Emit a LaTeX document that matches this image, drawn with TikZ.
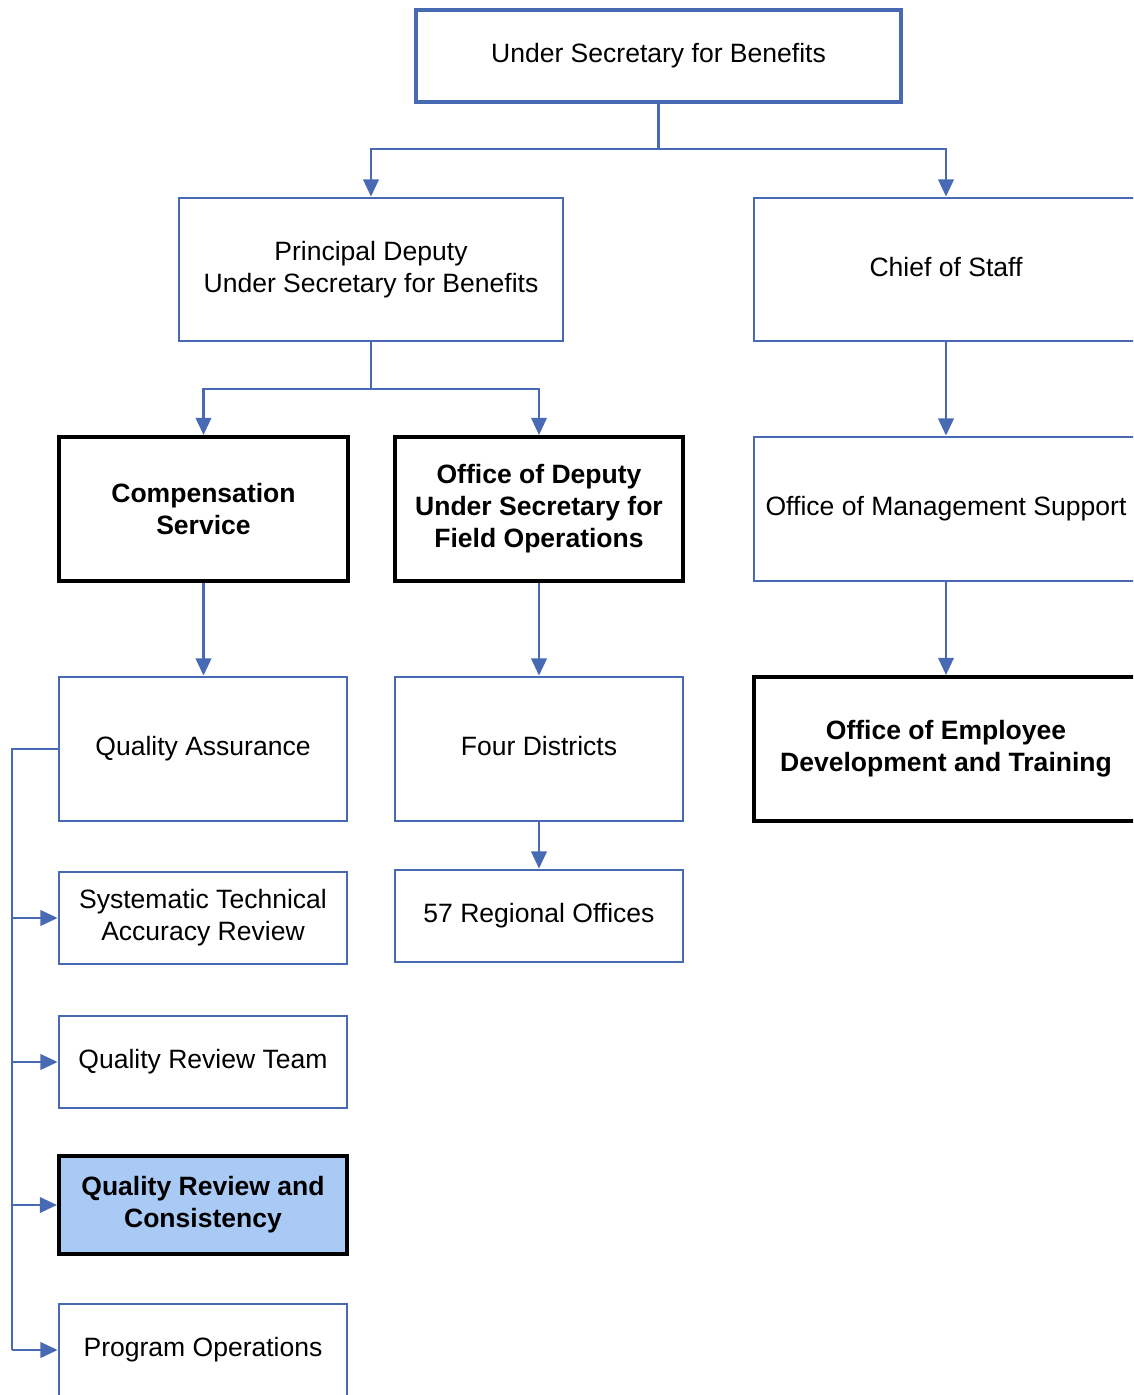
\documentclass[tikz,border=0pt]{standalone}
\usepackage{fontspec}
\setmainfont{Liberation Sans}
\usetikzlibrary{arrows.meta}
\definecolor{lnblue}{RGB}{72,106,180}
\definecolor{fillblue}{RGB}{170,202,246}
\tikzset{
  box/.style={draw=lnblue, line width=1.6pt, fill=white, inner sep=0pt, align=center,
    font=\fontsize{15.1}{18.2}\selectfont},
  one/.style={text height=10.9pt, text depth=3.1pt},
  topbox/.style={box, line width=1.9pt},
  blackbox/.style={box, draw=black, line width=2.3pt, font=\fontsize{15.1}{18.2}\selectfont\bfseries},
  conn/.style={draw=lnblue, line width=1.4pt},
  arr/.style={conn, -{Triangle[width=8.8pt,length=9.8pt]}},
}
\begin{document}
\begin{tikzpicture}[x=0.02cm, y=-0.02cm]
\useasboundingbox (0,0) rectangle (1133,1395);
\clip (0,0) rectangle (1133,1395);
\fill[white] (0,0) rectangle (1133,1395);

\node[topbox, one, minimum width=9.7cm, minimum height=1.84cm] (top) at (658.5,56) {Under Secretary for Benefits};
\node[box, minimum width=7.68cm, minimum height=2.86cm] (pd) at (371,269.5) {Principal Deputy\\Under Secretary for Benefits};
\node[box, one, minimum width=7.68cm, minimum height=2.86cm] (cos) at (946,269.5) {Chief of Staff};
\node[blackbox, minimum width=5.78cm, minimum height=2.88cm] (comp) at (203.5,509) {Compensation\\Service};
\node[blackbox, minimum width=5.76cm, minimum height=2.88cm] (odus) at (539,509) {Office of Deputy\\Under Secretary for\\Field Operations};
\node[box, one, minimum width=7.68cm, minimum height=2.88cm] (oms) at (946,509) {Office of Management Support};
\node[box, one, minimum width=5.76cm, minimum height=2.88cm] (qa) at (203,749) {Quality Assurance};
\node[box, one, minimum width=5.76cm, minimum height=2.88cm] (fd) at (539,749) {Four Districts};
\node[blackbox, minimum width=7.68cm, minimum height=2.88cm] (oedt) at (946,749) {Office of Employee\\Development and Training};
\node[box, minimum width=5.76cm, minimum height=1.84cm] (star) at (203,918) {Systematic Technical\\Accuracy Review};
\node[box, one, minimum width=5.76cm, minimum height=1.84cm] (ro) at (539,916) {57 Regional Offices};
\node[box, one, minimum width=5.76cm, minimum height=1.84cm] (qrt) at (203,1062) {Quality Review Team};
\node[blackbox, fill=fillblue, minimum width=5.76cm, minimum height=1.96cm] (qrc) at (203,1205) {Quality Review and\\Consistency};
\node[box, one, minimum width=5.76cm, minimum height=1.84cm] (po) at (203,1350) {Program Operations};

% top level
\coordinate (j1) at (658.5,149);
\draw[conn] (top.south) -- (j1);
\draw[arr] (j1) -| (pd.north);
\draw[arr] (j1) -| (cos.north);
% principal deputy
\coordinate (j2) at (371,389);
\draw[conn] (pd.south) -- (j2);
\draw[arr] (j2) -| (comp.north);
\draw[arr] (j2) -| (odus.north);
% verticals
\draw[arr] (cos.south) -- (oms.north);
\draw[arr] (comp.south) -- (comp.south |- qa.north);
\draw[arr] (odus.south) -- (fd.north);
\draw[arr] (oms.south) -- (oedt.north);
\draw[arr] (fd.south) -- (ro.north);
% left bus
\coordinate (bus) at (12,749);
\draw[conn] (qa.west) -- (bus) -- (bus |- po.west);
\draw[arr] (bus |- star.west) -- (star.west);
\draw[arr] (bus |- qrt.west) -- (qrt.west);
\draw[arr] (bus |- qrc.west) -- (qrc.west);
\draw[arr] (bus |- po.west) -- (po.west);
\end{tikzpicture}
\end{document}
